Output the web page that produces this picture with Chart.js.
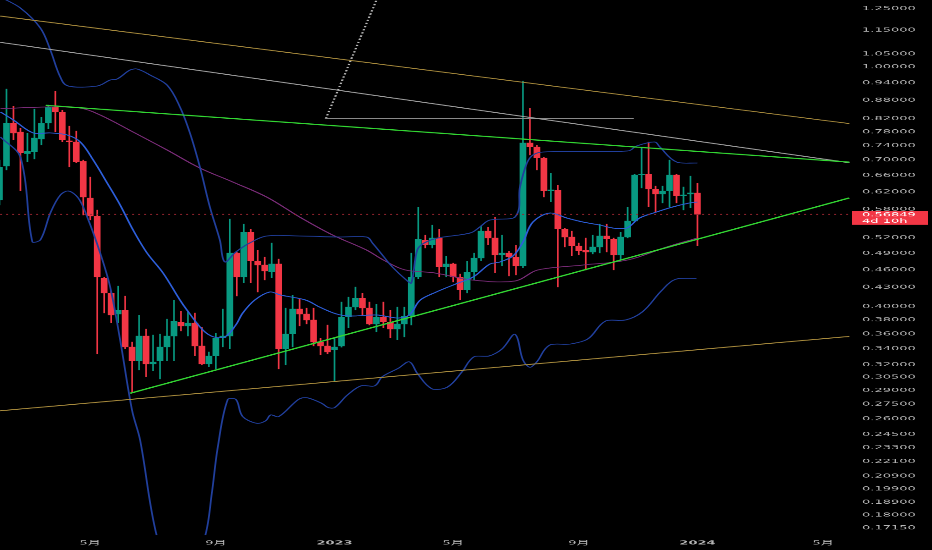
<!DOCTYPE html>
<html>
<head>
<meta charset="utf-8">
<script src="https://cdn.jsdelivr.net/npm/chart.js@4.4.1/dist/chart.umd.min.js"></script>
<style>
  html, body { margin: 0; padding: 0; background: #000; overflow: hidden; }
  canvas { display: block; }
</style>
</head>
<body>
<!-- drawn tall, shown squeezed to 550px high like the screenshot -->
<canvas id="chart" width="932" height="1200" style="width:932px;height:550px"></canvas>
<script>
// weekly candles, x = days since 2022-01-01, first bar = 2022-01-31
const candleStart = 30;
const opens = [0.6006, 0.6841, 0.8063, 0.779, 0.717, 0.7218, 0.7585, 0.806, 0.857, 0.841,
  0.7527, 0.750, 0.697, 0.6052, 0.5649, 0.4457, 0.4209, 0.3884, 0.3944, 0.3424,
  0.3246, 0.357, 0.3209, 0.3246, 0.3424, 0.357, 0.3767, 0.371, 0.3752, 0.3437,
  0.3209, 0.3308, 0.3544, 0.357, 0.4904, 0.4474, 0.5314, 0.4757, 0.4685, 0.4561,
  0.4703, 0.3398, 0.3598, 0.3959, 0.3884, 0.3796, 0.349, 0.3437, 0.3385, 0.3437,
  0.3839, 0.3989, 0.4128, 0.3974, 0.3738, 0.3839, 0.3767, 0.3667, 0.3738, 0.3854,
  0.4474, 0.5155, 0.5057, 0.5195, 0.4649, 0.4703, 0.4474, 0.4258, 0.4561, 0.4811,
  0.5335, 0.5195, 0.4867, 0.4904, 0.483, 0.4667, 0.747, 0.7357, 0.7053, 0.6217,
  0.6241, 0.5375, 0.5214, 0.5037, 0.4961, 0.4923, 0.5018, 0.5234, 0.5175, 0.4867,
  0.5214, 0.5543, 0.661, 0.6635, 0.6265, 0.6146, 0.6217, 0.661, 0.6099, 0.6146, 0.617];
const highs = [0.700, 0.9183, 0.8605, 0.791, 0.776, 0.8507, 0.825, 0.8637, 0.9113, 0.847,
  0.797, 0.782, 0.700, 0.6559, 0.5781, 0.4474, 0.424, 0.4323, 0.416, 0.349,
  0.3869, 0.3667, 0.3584, 0.3598, 0.381, 0.4097, 0.3929, 0.3914, 0.3899, 0.3695,
  0.3359, 0.3612, 0.3959, 0.5585, 0.4923, 0.5479, 0.5375, 0.4961, 0.483, 0.5096,
  0.4793, 0.3974, 0.4176, 0.4113, 0.3974, 0.3974, 0.3544, 0.3724, 0.3544, 0.4066,
  0.4144, 0.4307, 0.4209, 0.4066, 0.4035, 0.4066, 0.3944, 0.3989, 0.3989, 0.4904,
  0.5847, 0.5253, 0.5458, 0.5375, 0.4849, 0.472, 0.4527, 0.4757, 0.4904, 0.5438,
  0.5417, 0.5628, 0.5253, 0.4942, 0.5057, 0.9466, 0.854, 0.7413, 0.708, 0.666,
  0.6361, 0.5395, 0.5335, 0.5096, 0.5195, 0.5253, 0.5479, 0.5479, 0.5195, 0.5314,
  0.5847, 0.6635, 0.733, 0.7499, 0.6337, 0.6337, 0.6999, 0.6635, 0.6313, 0.6584, 0.641];
const lows = [0.589, 0.6737, 0.7556, 0.6217, 0.6946, 0.7026, 0.7413, 0.788, 0.779, 0.750,
  0.6815, 0.692, 0.567, 0.5564, 0.3334, 0.3899, 0.3752, 0.3752, 0.3398, 0.2882,
  0.3135, 0.3052, 0.3123, 0.3029, 0.3246, 0.3246, 0.3639, 0.357, 0.3308, 0.3197,
  0.3172, 0.3148, 0.3424, 0.3398, 0.416, 0.4372, 0.4372, 0.4225, 0.4423, 0.4457,
  0.3148, 0.3197, 0.3424, 0.371, 0.3738, 0.3437, 0.3321, 0.3334, 0.2995, 0.342,
  0.3681, 0.3944, 0.3854, 0.3724, 0.3626, 0.3681, 0.3544, 0.3517, 0.3557, 0.3724,
  0.444, 0.4999, 0.4999, 0.4474, 0.4474, 0.4389, 0.4097, 0.4209, 0.4423, 0.4757,
  0.5057, 0.4544, 0.4667, 0.4491, 0.4509, 0.4631, 0.7135, 0.6737, 0.6075, 0.5961,
  0.4307, 0.5018, 0.4849, 0.4867, 0.4596, 0.4886, 0.4904, 0.4923, 0.4596, 0.4775,
  0.5195, 0.5522, 0.6289, 0.5847, 0.5737, 0.5937, 0.5847, 0.5937, 0.5781, 0.5826, 0.5037];
const closes = [0.6814, 0.8063, 0.7761, 0.719, 0.7245, 0.7614, 0.806, 0.8571, 0.841, 0.7556,
  0.750, 0.6946, 0.6075, 0.5649, 0.4474, 0.4209, 0.3869, 0.3944, 0.3424, 0.3246,
  0.357, 0.3209, 0.3233, 0.3424, 0.357, 0.3781, 0.371, 0.3752, 0.3437, 0.3209,
  0.3308, 0.3544, 0.357, 0.4904, 0.4474, 0.5314, 0.4757, 0.4685, 0.4578, 0.4703,
  0.3398, 0.3598, 0.3959, 0.3884, 0.3796, 0.349, 0.3437, 0.3359, 0.3424, 0.3839,
  0.3989, 0.4128, 0.3974, 0.3738, 0.3839, 0.3767, 0.3667, 0.3738, 0.3854, 0.4474,
  0.5175, 0.5057, 0.5195, 0.4649, 0.4703, 0.4474, 0.4258, 0.4561, 0.4811, 0.5335,
  0.5195, 0.4867, 0.4904, 0.483, 0.4667, 0.747, 0.7357, 0.7053, 0.6217, 0.6241,
  0.5375, 0.5214, 0.5037, 0.4942, 0.4923, 0.5018, 0.5234, 0.5175, 0.4867, 0.5214,
  0.5543, 0.661, 0.6635, 0.6265, 0.6146, 0.6217, 0.661, 0.6099, 0.6122, 0.617, 0.56849];
const lastPrice = 0.56849;
const countdown = "4d 10h";

// indicators (days, price)
const maDays = [31, 44, 64, 81, 98, 111, 124, 138, 151, 164, 178, 194, 211, 218, 234, 245, 256, 267, 274, 286,
  301, 312, 337, 351, 368, 381, 408, 430, 441, 452, 468, 490, 505, 522, 532, 545, 555, 565, 582, 599,
  615, 632, 645, 659, 672, 689, 705, 722, 730];
const maValues = [0.841, 0.8156, 0.7761, 0.7761, 0.7701, 0.7499, 0.6999, 0.641, 0.5893, 0.5355,
  0.4904, 0.4544, 0.4097, 0.3944, 0.3653, 0.3557, 0.3557, 0.3724, 0.3899, 0.4097,
  0.4225, 0.4176, 0.4097, 0.3989, 0.3884, 0.3854, 0.3869, 0.3825, 0.3869, 0.4097,
  0.4225, 0.4372, 0.4474, 0.4703, 0.4739, 0.4849, 0.5115, 0.5522, 0.5715, 0.5607,
  0.5522, 0.5459, 0.5396, 0.5396, 0.5607, 0.5737, 0.5848, 0.5938, 0.5961];
const upperDays = [31, 51, 71, 81, 91, 99, 128, 141, 148, 161, 168, 181, 198, 211, 221, 231, 241, 251, 256, 267,
  281, 298, 331, 371, 398, 404, 414, 424, 438, 443, 449, 456, 470, 502, 512, 522, 547, 552, 559, 565,
  575, 660, 669, 687, 692, 709, 730];
const upperValues = [1.3054, 1.2517, 1.1595, 1.066, 0.9614, 0.9289, 0.9289, 0.9504, 0.9541, 0.9875,
  0.9912, 0.9688, 0.9324, 0.8572, 0.7761, 0.6814, 0.5848, 0.5155, 0.4739, 0.4923,
  0.5096, 0.5234, 0.5234, 0.5214, 0.5214, 0.5096, 0.4867, 0.4649, 0.4423, 0.4372,
  0.4961, 0.5096, 0.5195, 0.5294, 0.5423, 0.5564, 0.5628, 0.6312, 0.6919, 0.7134,
  0.7218, 0.7245, 0.7384, 0.7499, 0.7365, 0.6946, 0.6919];
const lowerDays = [31, 51, 63, 71, 81, 91, 99, 109, 118, 131, 141, 151, 163, 171, 188, 212, 236, 243, 249, 259,
  267, 274, 288, 297, 302, 310, 330, 338, 353, 360, 366, 379, 393, 406, 414, 430, 441, 449, 464, 479,
  494, 506, 521, 534, 547, 555, 562, 569, 582, 603, 620, 638, 658, 675, 694, 708, 729];
const lowerValues = [0.7643, 0.708, 0.5115, 0.5155, 0.5715, 0.6122, 0.6217, 0.6052, 0.5628, 0.4904,
  0.4307, 0.3517, 0.2685, 0.2399, 0.1656, 0.1301, 0.1656, 0.1959, 0.2338, 0.2803,
  0.2803, 0.2623, 0.2557, 0.2582, 0.264, 0.2623, 0.2803, 0.282, 0.2761, 0.2714,
  0.2714, 0.285, 0.2953, 0.2949, 0.3056, 0.3156, 0.3236, 0.3096, 0.2916, 0.2935,
  0.3115, 0.3299, 0.3308, 0.3398, 0.3594, 0.3258, 0.3168, 0.3236, 0.345, 0.3463,
  0.353, 0.3782, 0.3796, 0.3919, 0.4246, 0.4435, 0.4452];
const slowDays = [31, 78, 111, 131, 164, 198, 231, 264, 298, 331, 364, 398, 415, 437, 467, 504, 547, 570, 616, 660, 699, 730];
const slowValues = [0.8516, 0.8572, 0.8539, 0.8314, 0.779, 0.7273, 0.6788, 0.6435, 0.6075, 0.5628,
  0.5254, 0.4961, 0.4775, 0.4596, 0.4544, 0.4423, 0.4406, 0.4596, 0.4685, 0.4775, 0.5018, 0.5195];

// drawn trend lines: [start, end]
const goldTopDays = [30.6, 882.3], goldTopValues = [1.214, 0.8045];
const greyTopDays = [30.6, 882.3], greyTopValues = [1.0978, 0.6927];
const greenTopDays = [76.4, 882.3], greenTopValues = [0.8628, 0.6943];
const greenLowDays = [160.9, 882.3], greenLowValues = [0.2868, 0.6053];
const goldLowDays = [30.6, 882.3], goldLowValues = [0.2682, 0.3565];
const levelDays = [357.3, 666.2], levelValues = [0.82, 0.82];
const dottedDays = [357.3, 412.4], dottedValues = [0.82, 1.3409];

const priceTicks = [1.25, 1.15, 1.05, 1.00, 0.94, 0.88, 0.82, 0.78, 0.74, 0.70, 0.66, 0.62, 0.58, 0.55,
  0.52, 0.49, 0.46, 0.43, 0.40, 0.38, 0.36, 0.34, 0.32, 0.305, 0.29, 0.275, 0.26, 0.245, 0.233,
  0.221, 0.209, 0.199, 0.189, 0.18, 0.1715];
const timeTickDays = [121, 247, 366, 485, 611, 730, 856];
const timeTickLabels = ["5月", "9月", "2023", "5月", "9月", "2024", "5月"];

const UP = "#089981", DOWN = "#f23645";
const FONT = "'DejaVu Sans', 'Noto Sans CJK SC', sans-serif";
const squeeze = 550 / 1200;   // vertical display scale of the canvas

const candleDays = opens.map((_, i) => candleStart + 7 * i);
const candleColors = opens.map((o, i) => closes[i] >= o ? UP : DOWN);

function pts(days, vals) {
  return days.map((d, i) => ({ x: d, y: vals[i] }));
}
function line(days, vals, color, width, extra) {
  return Object.assign({
    type: "line", data: pts(days, vals), borderColor: color, borderWidth: width,
    pointRadius: 0, tension: 0, clip: 0, order: 0
  }, extra || {});
}

const priceTag = {
  id: "priceTag",
  afterDraw(chart) {
    const { ctx, chartArea, scales } = chart;
    const py = scales.y.getPixelForValue(lastPrice);
    ctx.save();
    ctx.fillStyle = DOWN;
    ctx.fillRect(chartArea.right + 2, py - 3.5 / squeeze, 76, 14 / squeeze);
    ctx.fillStyle = "#ffffff";
    ctx.font = "13px " + FONT;
    ctx.textBaseline = "middle";
    ctx.fillText(lastPrice.toFixed(5), chartArea.right + 12, py + 0.5 / squeeze);
    ctx.fillText(countdown, chartArea.right + 12, py + 7 / squeeze);
    ctx.restore();
  }
};

new Chart(document.getElementById("chart"), {
  type: "bar",
  data: {
    datasets: [
      line(greenTopDays, greenTopValues, "#33d633", 2.6),
      line(greenLowDays, greenLowValues, "#33d633", 2.6),
      line(goldTopDays, goldTopValues, "#a88b3d", 2),
      line(goldLowDays, goldLowValues, "#a88b3d", 2),
      line(greyTopDays, greyTopValues, "#a0a0a0", 2),
      line(levelDays, levelValues, "#8a8a8a", 2.2),
      line(dottedDays, dottedValues, "#b5b5b5", 2.2, { borderDash: [3, 4] }),
      line([30.6, 882.3], [lastPrice, lastPrice], "#9a2630", 2.2, { borderDash: [2, 4] }),
      line(maDays, maValues, "#2d5ed8", 1.9, { tension: 0.35 }),
      line(upperDays, upperValues, "#213f9c", 1.8, { tension: 0.35 }),
      line(lowerDays, lowerValues, "#213f9c", 1.8, { tension: 0.35 }),
      line(slowDays, slowValues, "#7a2c78", 1.8, { tension: 0.35 }),
      {
        type: "bar",
        data: candleDays.map((d, i) => ({ x: d, y: [opens[i], closes[i]] })),
        backgroundColor: candleColors,
        barThickness: 6, minBarLength: 2.5, grouped: false, order: 1
      },
      {
        type: "bar",
        data: candleDays.map((d, i) => ({ x: d, y: [lows[i], highs[i]] })),
        backgroundColor: candleColors,
        barThickness: 1, grouped: false, order: 2
      }
    ]
  },
  options: {
    responsive: false,
    devicePixelRatio: 1,
    animation: false,
    events: [],
    layout: { padding: 0 },
    plugins: { legend: { display: false }, tooltip: { enabled: false } },
    scales: {
      x: {
        type: "linear",
        min: 30.5,
        max: 883,
        offset: false,
        grid: { display: false, drawTicks: false },
        border: { display: false },
        afterBuildTicks: (s) => { s.ticks = timeTickDays.map(v => ({ value: v })); },
        afterFit: (s) => { s.height = 15 / squeeze; s.paddingLeft = 0; s.paddingRight = 0; },
        ticks: {
          color: "#b4b4b4",
          padding: 10,
          maxRotation: 0,
          autoSkip: false,
          font: (c) => ({ family: FONT, size: 13, weight: /^\d{4}$/.test(timeTickLabels[c.index] || "") ? "bold" : "normal" }),
          callback: (v, i) => timeTickLabels[i]
        }
      },
      y: {
        type: "logarithmic",
        position: "right",
        min: 0.1668,
        max: 1.2906,
        grid: { display: false, drawTicks: false },
        border: { display: false },
        afterBuildTicks: (s) => { s.ticks = priceTicks.map(v => ({ value: v })); },
        afterFit: (s) => { s.width = 82; s.paddingTop = 0; s.paddingBottom = 0; },
        ticks: {
          color: "#b4b4b4",
          padding: 12,
          autoSkip: false,
          font: { family: FONT, size: 13 },
          callback: (v) => Number(v).toFixed(5)
        }
      }
    }
  },
  plugins: [priceTag]
});
</script>
</body>
</html>
